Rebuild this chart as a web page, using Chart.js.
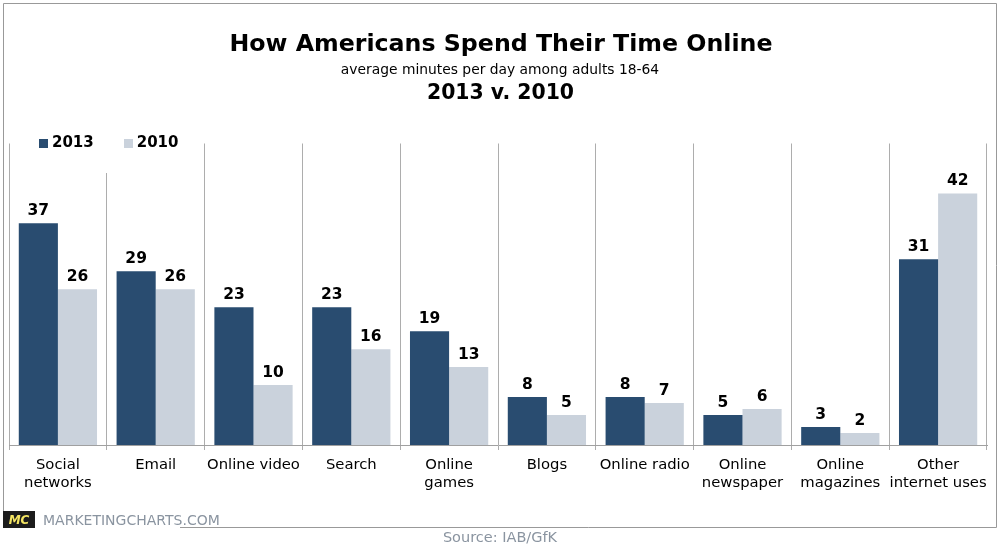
<!DOCTYPE html>
<html>
<head>
<meta charset="utf-8">
<style>
  html, body { margin: 0; padding: 0; background: #fff; }
  canvas { display: block; }
</style>
<script src="https://cdn.jsdelivr.net/npm/chart.js@4"></script>
</head>
<body>
<canvas id="chart" width="1000" height="550"></canvas>
<script>
const categories = [
  ['Social', 'networks'], 'Email', 'Online video', 'Search', ['Online', 'games'],
  'Blogs', 'Online radio', ['Online', 'newspaper'], ['Online', 'magazines'], ['Other', 'internet uses']
];
const values2013 = [37, 29, 23, 23, 19, 8, 8, 5, 3, 31];
const values2010 = [26, 26, 10, 16, 13, 5, 7, 6, 2, 42];

const FONT = "'DejaVu Sans', Verdana, sans-serif";
const DARK = '#294C70';
const LIGHT = '#CAD2DC';

// Small square used as the legend marker
function legendSquare(color) {
  const c = document.createElement('canvas');
  c.width = 9;
  c.height = 9;
  const g = c.getContext('2d');
  g.fillStyle = color;
  g.fillRect(0, 0, 9, 9);
  return c;
}

// Legend sits on a white box that hides the top of the second grid line
const legendPlacement = {
  id: 'legendPlacement',
  afterLayout(chart) {
    chart.legend.left = 9;
    chart.legend.top = 102;
    chart.legend.bottom = 173;
  },
  beforeDatasetsDraw(chart) {
    const ctx = chart.ctx;
    ctx.save();
    ctx.fillStyle = '#fff';
    ctx.fillRect(20, 130, 180, 43);
    ctx.restore();
    chart.legend.draw();
  }
};

// Value labels above each bar
const barLabels = {
  id: 'barLabels',
  afterDatasetsDraw(chart) {
    const ctx = chart.ctx;
    ctx.save();
    ctx.font = 'bold 15.5px ' + FONT;
    ctx.fillStyle = '#000';
    ctx.textAlign = 'center';
    ctx.textBaseline = 'alphabetic';
    chart.data.datasets.forEach((ds, i) => {
      chart.getDatasetMeta(i).data.forEach((bar, j) => {
        ctx.fillText(ds.data[j], bar.x, bar.y - 8);
      });
    });
    ctx.restore();
  }
};

// Headings, frame, logo and source line
const decorations = {
  id: 'decorations',
  afterDraw(chart) {
    const ctx = chart.ctx;
    ctx.save();
    ctx.textAlign = 'center';
    ctx.textBaseline = 'alphabetic';
    ctx.fillStyle = '#000';
    ctx.font = 'bold 23.7px ' + FONT;
    ctx.fillText('How Americans Spend Their Time Online', 501, 51);
    ctx.font = '13.85px ' + FONT;
    ctx.fillText('average minutes per day among adults 18-64', 500, 74);
    ctx.font = 'bold 20.4px ' + FONT;
    ctx.fillText('2013 v. 2010', 500.5, 99);

    ctx.strokeStyle = '#999';
    ctx.lineWidth = 1;
    ctx.beginPath();
    ctx.moveTo(3.5, 511);
    ctx.lineTo(3.5, 3.5);
    ctx.lineTo(996.5, 3.5);
    ctx.lineTo(996.5, 527.5);
    ctx.lineTo(180, 527.5);
    ctx.stroke();

    ctx.fillStyle = '#1c1c1c';
    ctx.fillRect(3, 511, 32, 17);
    ctx.fillStyle = '#F5E663';
    ctx.font = 'italic bold 12px ' + FONT;
    ctx.fillText('MC', 19, 524);

    ctx.textAlign = 'left';
    ctx.fillStyle = '#8A94A0';
    ctx.font = '14px ' + FONT;
    ctx.fillText('MARKETINGCHARTS.COM', 43, 525);

    ctx.textAlign = 'center';
    ctx.font = '14.5px ' + FONT;
    ctx.fillText('Source: IAB/GfK', 500, 542);
    ctx.restore();
  }
};

new Chart(document.getElementById('chart'), {
  type: 'bar',
  data: {
    labels: categories,
    datasets: [
      { label: '2013', data: values2013, backgroundColor: DARK },
      { label: '2010', data: values2010, backgroundColor: LIGHT }
    ]
  },
  options: {
    responsive: false,
    animation: false,
    layout: { padding: { left: 9, right: 13, top: 85, bottom: 0 } },
    datasets: { bar: { categoryPercentage: 0.8, barPercentage: 1 } },
    plugins: {
      title: { display: false },
      tooltip: { enabled: false },
      legend: {
        position: 'top',
        align: 'start',
        labels: {
          color: '#000',
          font: { family: FONT, size: 15, weight: 'bold' },
          boxWidth: 2,
          boxHeight: 2,
          padding: 33.5,
          usePointStyle: true,
          generateLabels(chart) {
            return Chart.defaults.plugins.legend.labels.generateLabels(chart).map(item => {
              item.pointStyle = legendSquare(item.fillStyle);
              return item;
            });
          }
        }
      }
    },
    scales: {
      x: {
        afterFit(scale) { scale.height = 105; },
        grid: { color: '#ADADAD', lineWidth: 1, tickLength: 5, drawTicks: true },
        border: { color: '#A0A0A0' },
        ticks: {
          color: '#000',
          font: { family: FONT, size: 14.8, lineHeight: 1.22 },
          padding: 6,
          maxRotation: 0,
          autoSkip: false
        }
      },
      y: { display: false, min: 0, max: 50.33 }
    }
  },
  plugins: [legendPlacement, barLabels, decorations]
});
</script>
</body>
</html>
